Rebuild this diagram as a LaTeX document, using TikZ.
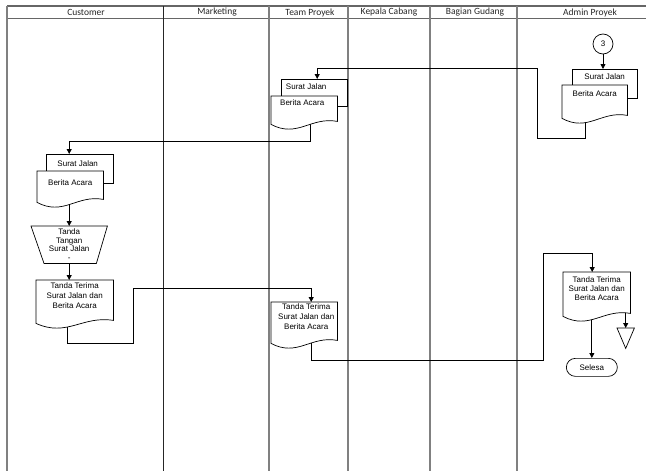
\documentclass[tikz,border=0pt]{standalone}
\usepackage{fontspec}
\setmainfont{Liberation Sans}
\newfontfamily\hdrfont{Carlito}
\usetikzlibrary{calc,arrows.meta}
\pgfdeclarelayer{bg}
\pgfsetlayers{bg,main}
\newcommand\docout[1]{\path[shp] (#1.north west) -- (#1.north east) -- ([yshift=3pt]#1.south east) .. controls ($(#1.south west)!0.6!(#1.south east)+(0pt,8pt)$) and ($(#1.south west)!0.4!(#1.south east)+(0pt,-14pt)$) .. (#1.south west) -- cycle;}
\begin{document}
\begin{tikzpicture}[x=1pt,y=-1pt,
  lane/.style={draw=black!50, line width=1.1pt},
  mlane/.style={draw=black!85, line width=0.9pt},
  hline/.style={draw=black!60, line width=1.1pt},
  hdr/.style={font=\hdrfont\fontsize{9.5}{11}\selectfont, text=black!85, inner sep=0},
  txt/.style={font=\fontsize{8}{10}\selectfont},
  box/.style n args={2}{minimum width=#1, minimum height=#2, inner sep=0, anchor=north west},
  conn/.style={draw=black, line width=0.8pt},
  arr/.style={conn, -{Triangle[length=5pt,width=5pt]}},
  shp/.style={draw=black, line width=0.7pt, fill=white},
]
\useasboundingbox (0,0) rectangle (646,471);

% header
\node[hdr] (h1) at (86,12.5) {Customer};
\node[hdr] (h2) at (217,12.5) {Marketing};
\node[hdr] (h3) at (310,12.5) {Team Proyek};
\node[hdr] (h4) at (389,12.5) {Kepala Cabang};
\node[hdr] (h5) at (475,12.5) {Bagian Gudang};
\node[hdr] (h6) at (590,12.5) {Admin Proyek};

% Admin Proyek
\node[circle, draw, line width=0.7pt, fill=white, minimum size=20pt, inner sep=0, txt] (c3) at (603,44) {3};
\node[box={65}{29}, label={[txt,anchor=center,yshift=-8pt]north:Surat Jalan}] (asj) at (572,69) {};
\node[box={65}{33}, label={[txt,anchor=center,yshift=-9pt]north:Berita Acara}] (aba) at (562,85) {};

% Team Proyek
\node[box={66}{27}, label={[txt,anchor=center,xshift=-8pt,yshift=-8pt]north:Surat Jalan}] (tsj) at (281,79) {};
\node[box={66}{28}, label={[txt,anchor=center,xshift=-2pt,yshift=-7pt]north:Berita Acara}] (tba) at (271,96) {};

% Customer
\node[box={67}{29}, label={[txt,anchor=center,xshift=-2pt,yshift=-10pt]north:Surat Jalan}] (csj) at (46,154) {};
\node[box={66}{31}, label={[txt,anchor=center,yshift=-12pt]north:Berita Acara}] (cba) at (37,171) {};
\node[box={76}{37}, font=\fontsize{8}{8.7}\selectfont, align=center] (ctr) at (31,226) {Tanda\\Tangan\\Surat Jalan\\-};
\node[box={77}{43}, label={[txt,anchor=center,align=center,yshift=-16pt]north:Tanda Terima\\Surat Jalan dan\\Berita Acara}] (ctt) at (36,280) {};

% Team Proyek second doc
\node[box={66}{41}, label={[txt,anchor=center,align=center,xshift=2pt,yshift=-15pt]north:Tanda Terima\\Surat Jalan dan\\Berita Acara}] (ttt) at (271,302) {};

% Admin second doc
\node[box={67}{44}, label={[font=\fontsize{8}{9}\selectfont,anchor=center,align=center,yshift=-17pt]north:Tanda Terima\\Surat Jalan dan\\Berita Acara}] (att) at (563,272) {};
\node[box={51}{18}, draw, line width=0.7pt, fill=white, rounded corners=9pt, txt] (sel) at (566,358) {Selesa};
\node[box={17}{20}] (tri) at (617,328) {};

\begin{pgfonlayer}{bg}
  % lanes
  \draw[hline] (7,6) -- (660,6);
  \draw[hline] (7,18.5) -- (660,18.5);
  \draw[lane] (7,6) -- (7,471);
  \draw[mlane] (163,6) -- (163,471);
  \draw[lane] (269,6) -- (269,471);
  \draw[lane] (348,6) -- (348,471);
  \draw[lane] (430,6) -- (430,471);
  \draw[lane] (517,6) -- (517,471);
  % connectors
  \draw[arr] (c3) -- (c3 |- asj.north);
  \draw[arr] ([xshift=-9.5pt]aba.center) -- ++(0,36.5) -| (537,68) -| ([xshift=3pt]tsj.north);
  \draw[arr] ([xshift=6pt]tba.center) -- ++(0,31) -| ([xshift=-10.5pt]csj.north);
  \draw[arr] ([xshift=-1pt]cba.center) -- ([xshift=-1pt]cba.center |- ctr.north);
  \draw[arr] (ctr.center) -- (ctr.center |- ctt.north);
  \draw[arr] ([xshift=-7.5pt]ctt.center) -- ++(0,41.5) -| (133,288) -| ([xshift=7pt]ttt.north);
  \draw[arr] ([xshift=7pt]ttt.center) -- ++(0,37.5) -| (543,253) -| ([xshift=-4.5pt]att.north);
  \draw[arr] (sel.north |- att.center) -- (sel.north);
  \draw[arr] (tri.north |- att.center) -- (tri.north);
  % shapes
  \path[shp] (asj.north west) rectangle (asj.south east);
  \docout{aba}
  \path[shp] (tsj.north west) rectangle (tsj.south east);
  \docout{tba}
  \path[shp] (csj.north west) rectangle (csj.south east);
  \docout{cba}
  \path[shp] (ctr.north west) -- (ctr.north east) -- ([xshift=-11pt]ctr.south east) -- ([xshift=13pt]ctr.south west) -- cycle;
  \docout{ctt}
  \docout{ttt}
  \docout{att}
  \path[shp] (tri.north west) -- (tri.north east) -- (tri.south) -- cycle;
\end{pgfonlayer}
\end{tikzpicture}
\end{document}
